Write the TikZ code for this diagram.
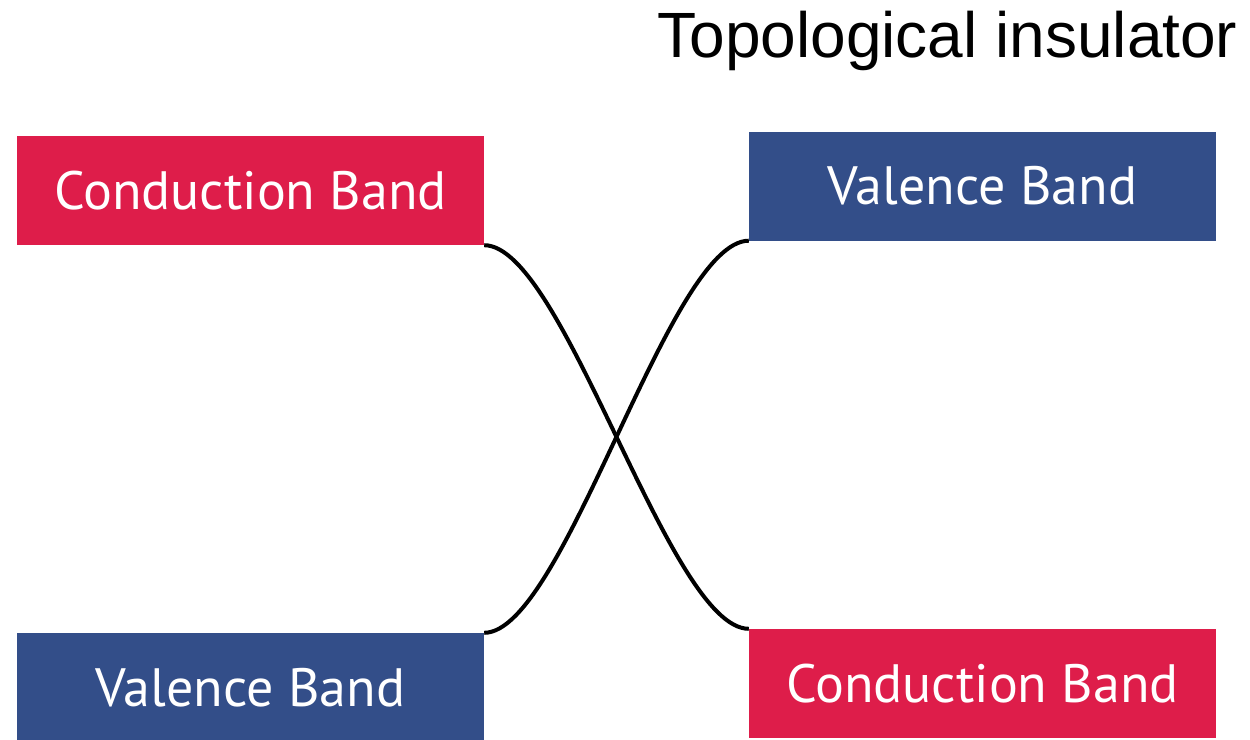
\documentclass[tikz,border=0pt]{standalone}
\usepackage{fontspec}
\usepackage{tikz}
\usetikzlibrary{calc, positioning}
\newfontfamily\bandfont{PT Sans}
\newfontfamily\titlefont{Liberation Sans}

\tikzset{
    band/.style={minimum width=467pt, minimum height=109pt, inner sep=0pt,
        text=white, font=\bandfont\fontsize{54}{60}\selectfont},
    cband/.style={band, fill=condred},
    vband/.style={band, fill=valblue},
    link/.style={line width=4pt, black}
}

\begin{document}
\begin{tikzpicture}[x=1pt, y=-1pt]
        \definecolor{condred}{RGB}{222, 29, 74}
        \definecolor{valblue}{RGB}{51, 78, 137}
        \useasboundingbox (0,0) rectangle (1250,739);
        \clip (0,0) rectangle (1250,739);

        \node[anchor=base east, font=\titlefont\fontsize{64}{70}\selectfont] (title) at (1241, 57){Topological insulator};

        % left side
        \node[cband] (cbl) at (250.5, 190.5){Conduction Band};
        \node[vband] (vbl) at (250.5, 687.5){Valence Band};

        % right side
        \node[vband] (vbr) at (982.5, 186){Valence Band};
        \node[cband] (cbr) at (982.5, 683.5){Conduction Band};

        \draw[link] (cbl.south east) .. controls +(80,0) and +(-80,0) .. (cbr.north west);
        \draw[link] (vbl.north east) .. controls +(80,0) and +(-80,0) .. (vbr.south west);
    \end{tikzpicture}
\end{document}
